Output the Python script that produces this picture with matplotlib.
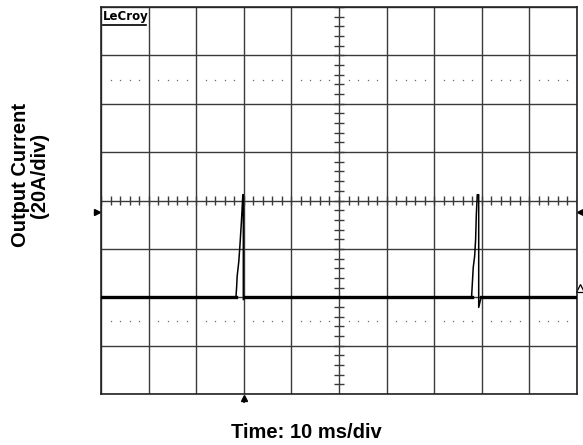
import numpy as np
import matplotlib.pyplot as plt

# scope screen: 10 divisions of 10 ms, 8 divisions of 20 A (baseline = 0 A)
time_ticks = np.arange(0, 101, 10)
amp_ticks = np.arange(-40, 121, 20)

# trace (ms, A)
time_ms = [0.0, 28.35, 28.5, 28.6, 28.95, 29.2, 29.5, 29.8, 29.9, 29.9, 30.25,
           77.85, 78.2, 78.5, 78.7, 78.85, 79.05, 79.35, 79.35, 79.85, 100.0]
current_a = [0.0, 0.0, 4.4, 8.6, 14.8, 21.8, 31.3, 42.4, 42.4, -1.0, 0.0,
             0.0, 12.3, 17.0, 23.8, 34.2, 42.4, 42.4, -4.2, 0.0, 0.0]

grid_col = '#3a3a3a'

fig = plt.figure(figsize=(5.83, 4.45), dpi=100)
ax = fig.add_axes([101 / 583, 1 - 394 / 445, 476 / 583, 387 / 445])
ax.set_xlim(0, 100)
ax.set_ylim(-40, 120)
ax.set_xticks(time_ticks)
ax.set_yticks(amp_ticks)
ax.tick_params(length=0, labelbottom=False, labelleft=False)
ax.grid(True, color=grid_col, lw=1.0)
for sp in ax.spines.values():
    sp.set_color('#222222')
    sp.set_linewidth(1.2)

xc = time_ticks.mean()
yc = amp_ticks.mean()

# crosshair minor ticks every 0.2 div
ax.vlines(np.arange(0, 100.01, 2), yc - 1.9, yc + 1.9, color=grid_col, lw=1.0)
ax.hlines(np.arange(-40, 120.01, 4), xc - 0.95, xc + 0.95, color=grid_col, lw=1.0)

# dotted cursor rows
for yrow in [yc + 2.5 * 20, yc - 2.5 * 20]:
    dots = np.arange(0, 100.01, 2)
    dots = dots[dots % 10 != 0]
    ax.plot(dots, np.full(len(dots), yrow), ls='none', marker='s', ms=0.9,
            mew=0, color='#6a6a6a')

# trace: thin ramps, thick baseline
t = np.array(time_ms)
i = np.array(current_a)
ax.plot(t, i, color='black', lw=1.1, zorder=5)
base = np.ma.masked_where(i != 0, i)
ax.plot(t, base, color='black', lw=2.4, zorder=6)

# screen markers
ax.plot([-0.9], [35.4], marker='>', ms=4, color='black', clip_on=False)
ax.plot([100.7], [35.4], marker='<', ms=4, color='black', clip_on=False)
ax.plot([100.7], [4], marker='^', ms=6, color='black', mfc='none', mew=0.9,
        clip_on=False)
ax.plot([30.0], [-41.6], marker='^', ms=5, color='black', clip_on=False)
ax.plot([30.0, 30.0], [-41.6, -43.5], color='black', lw=1.2, clip_on=False)

ax.text(0.004, 0.992, 'LeCroy', transform=ax.transAxes, ha='left', va='top',
        fontsize=8.5, fontweight='bold', family='DejaVu Sans')
ax.plot([0.004, 0.095], [0.954, 0.954], transform=ax.transAxes, color='black',
        lw=1.2)

fig.text(30 / 583, 1 - 175 / 445, 'Output Current\n(20A/div)', rotation=90,
         ha='center', va='center', fontsize=14.5, fontweight='bold',
         family='Liberation Sans', linespacing=1.05)
fig.text(306 / 583, 1 - 433 / 445, 'Time: 10 ms/div', ha='center', va='center',
         fontsize=14.5, fontweight='bold', family='Liberation Sans')

fig.savefig('out.png', dpi=100)
